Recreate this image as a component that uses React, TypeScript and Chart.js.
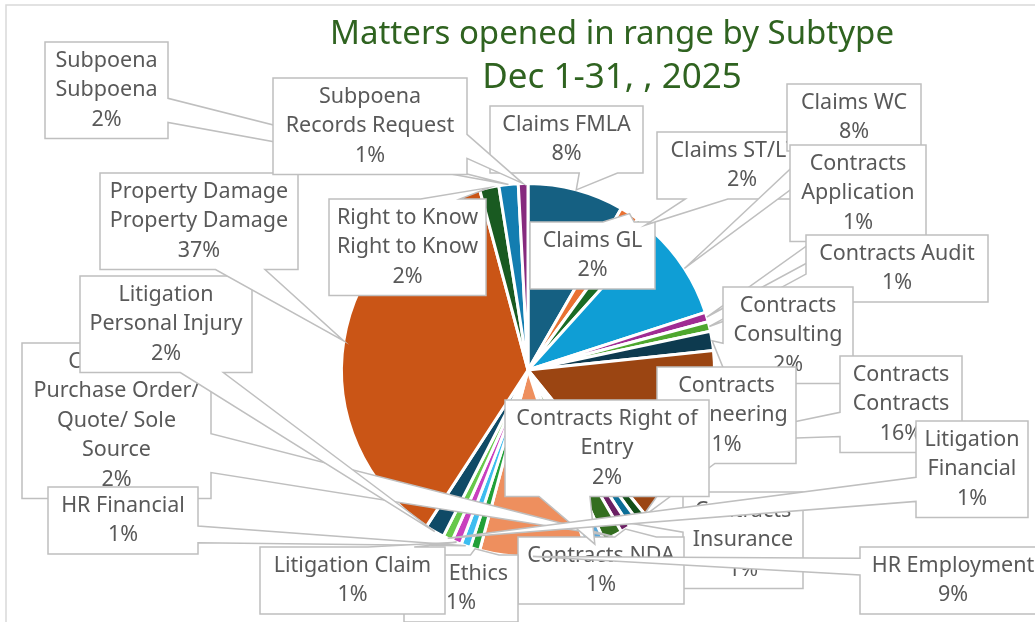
import React, { useEffect, useRef } from "react";
import { Chart, registerables } from "chart.js";

Chart.register(...registerables);

const titleLines = ["Matters opened in range by Subtype", "Dec 1-31, , 2025"];

const categories = [
  "Claims FMLA", "Claims GL", "Claims ST/LTD", "Claims WC",
  "Contracts Application", "Contracts Audit", "Contracts Consulting", "Contracts Contracts",
  "Contracts Engineering", "Contracts Insurance", "Contracts NDA",
  "Contracts Purchase Order/ Quote/ Sole Source", "Contracts Right of Entry",
  "HR Employment", "HR Ethics", "HR Financial", "Litigation Claim", "Litigation Financial",
  "Litigation Personal Injury", "Property Damage Property Damage", "Right to Know Right to Know",
  "Subpoena Subpoena", "Subpoena Records Request",
];

const counts = [10, 2, 2, 10, 1, 1, 2, 19, 1, 1, 1, 2, 2, 11, 1, 1, 1, 1, 2, 44, 2, 2, 1];

const sliceColors = [
  "#156082", "#E97132", "#196B24", "#0F9ED5", "#A02B93", "#4EA72E", "#0D3A4F", "#9B4512",
  "#124F18", "#0B6E97", "#6B1F63", "#336E1F", "#5AA7D8", "#EE8F5E", "#22A038", "#3DBDF0",
  "#C93FBE", "#67C84A", "#0F4A66", "#CA5516", "#195A21", "#137DB0", "#862A7E",
];

// wrapped category text of each data label (as shown)
const labelLines: string[][] = [
  ["Claims FMLA"], ["Claims GL"], ["Claims ST/LTD"], ["Claims WC"],
  ["Contracts", "Application"], ["Contracts Audit"], ["Contracts", "Consulting"], ["Contracts", "Contracts"],
  ["Contracts", "Engineering"], ["Contracts", "Insurance"], ["Contracts NDA"],
  ["Contracts", "Purchase Order/", "Quote/ Sole", "Source"], ["Contracts Right of", "Entry"],
  ["HR Employment"], ["HR Ethics"], ["HR Financial"], ["Litigation Claim"], ["Litigation", "Financial"],
  ["Litigation", "Personal Injury"], ["Property Damage", "Property Damage"], ["Right to Know", "Right to Know"],
  ["Subpoena", "Subpoena"], ["Subpoena", "Records Request"],
];

// label box layout: left, top, width
const labelBoxes: number[][] = [
  [490, 106, 153], [530, 222, 125], [657, 132, 170], [787, 84, 134],
  [790, 145, 136], [806, 235, 182], [723, 287, 130], [840, 356, 122],
  [657, 367, 139], [683, 492, 120], [518, 537, 166],
  [22, 343, 189], [505, 400, 204],
  [860, 547, 186], [404, 555, 114], [48, 487, 150], [260, 547, 185], [916, 421, 112],
  [80, 276, 172], [100, 173, 198], [329, 199, 157],
  [45, 42, 123], [273, 78, 194],
];

const LINE_H = 29.5;
const FONT = "Noto Sans";

function calloutPath(ctx: CanvasRenderingContext2D, x: number, y: number, w: number, h: number, tx: number, ty: number) {
  const hc = x + w / 2;
  const vc = y + h / 2;
  const dx = tx - hc;
  const dy = ty - vc;
  const inside = tx >= x && tx <= x + w && ty >= y && ty <= y + h;
  const vertical = Math.abs(dy) > Math.abs((dx * h) / w);
  const xa = x + (w * (dx > 0 ? 7 : 2)) / 12;
  const xb = x + (w * (dx > 0 ? 10 : 5)) / 12;
  const ya = y + (h * (dy > 0 ? 7 : 2)) / 12;
  const yb = y + (h * (dy > 0 ? 10 : 5)) / 12;
  ctx.beginPath();
  ctx.moveTo(x, y);
  if (!inside && vertical && dy < 0) {
    ctx.lineTo(xa, y);
    ctx.lineTo(tx, ty);
    ctx.lineTo(xb, y);
  }
  ctx.lineTo(x + w, y);
  if (!inside && !vertical && dx > 0) {
    ctx.lineTo(x + w, ya);
    ctx.lineTo(tx, ty);
    ctx.lineTo(x + w, yb);
  }
  ctx.lineTo(x + w, y + h);
  if (!inside && vertical && dy > 0) {
    ctx.lineTo(xb, y + h);
    ctx.lineTo(tx, ty);
    ctx.lineTo(xa, y + h);
  }
  ctx.lineTo(x, y + h);
  if (!inside && !vertical && dx < 0) {
    ctx.lineTo(x, yb);
    ctx.lineTo(tx, ty);
    ctx.lineTo(x, ya);
  }
  ctx.closePath();
}

const calloutPlugin = {
  id: "callouts",
  afterDraw(chart: any) {
    const ctx: CanvasRenderingContext2D = chart.ctx;
    const meta = chart.getDatasetMeta(0);
    const data: number[] = chart.data.datasets[0].data;
    const total = data.reduce((a, b) => a + b, 0);
    ctx.save();
    // chart border
    ctx.strokeStyle = "#D9D9D9";
    ctx.lineWidth = 1.5;
    ctx.strokeRect(6, 5, 1100, 700);
    // title
    ctx.fillStyle = "#2F6320";
    ctx.textAlign = "center";
    ctx.textBaseline = "alphabetic";
    ctx.font = `33px "${FONT}"`;
    ctx.fillText(titleLines[0], 612, 44);
    ctx.font = `35px "${FONT}"`;
    ctx.fillText(titleLines[1], 612, 88);

    meta.data.forEach((arc: any, i: number) => {
      const mid = (arc.startAngle + arc.endAngle) / 2;
      const r = arc.outerRadius;
      const tx = arc.x + Math.cos(mid) * r;
      const ty = arc.y + Math.sin(mid) * r;
      const lines = [...labelLines[i], Math.round((data[i] / total) * 100) + "%"];
      const [bx, by, bw] = labelBoxes[i];
      const bh = lines.length * LINE_H + 8;
      calloutPath(ctx, bx, by, bw, bh, tx, ty);
      ctx.fillStyle = "#FFFFFF";
      ctx.fill();
      ctx.strokeStyle = "#BFBFBF";
      ctx.lineWidth = 1.5;
      ctx.lineJoin = "miter";
      ctx.stroke();
      ctx.fillStyle = "#595959";
      ctx.font = `21.5px "${FONT}"`;
      ctx.textAlign = "center";
      ctx.textBaseline = "middle";
      lines.forEach((t, j) => {
        ctx.fillText(t, bx + bw / 2, by + 4 + LINE_H * (j + 0.5));
      });
    });
    ctx.restore();
  },
};

export default function App() {
  const ref = useRef<HTMLCanvasElement | null>(null);
  useEffect(() => {
    document.body.style.margin = "0";
    const chart = new Chart(ref.current as HTMLCanvasElement, {
      type: "pie",
      data: {
        labels: categories,
        datasets: [
          {
            data: counts,
            backgroundColor: sliceColors,
            borderColor: "#FFFFFF",
            borderWidth: 3,
          },
        ],
      },
      options: {
        responsive: false,
        animation: false,
        layout: { padding: { left: 340, top: 182, right: 319, bottom: 64 } },
        plugins: {
          legend: { display: false },
          title: { display: false },
          tooltip: { enabled: false },
        },
      },
      plugins: [calloutPlugin],
    });
    return () => chart.destroy();
  }, []);
  return (
    <div style={{ position: "absolute", left: 0, top: 0, width: 1035, height: 622, background: "#fff" }}>
      <canvas ref={ref} width={1035} height={622} />
    </div>
  );
}
